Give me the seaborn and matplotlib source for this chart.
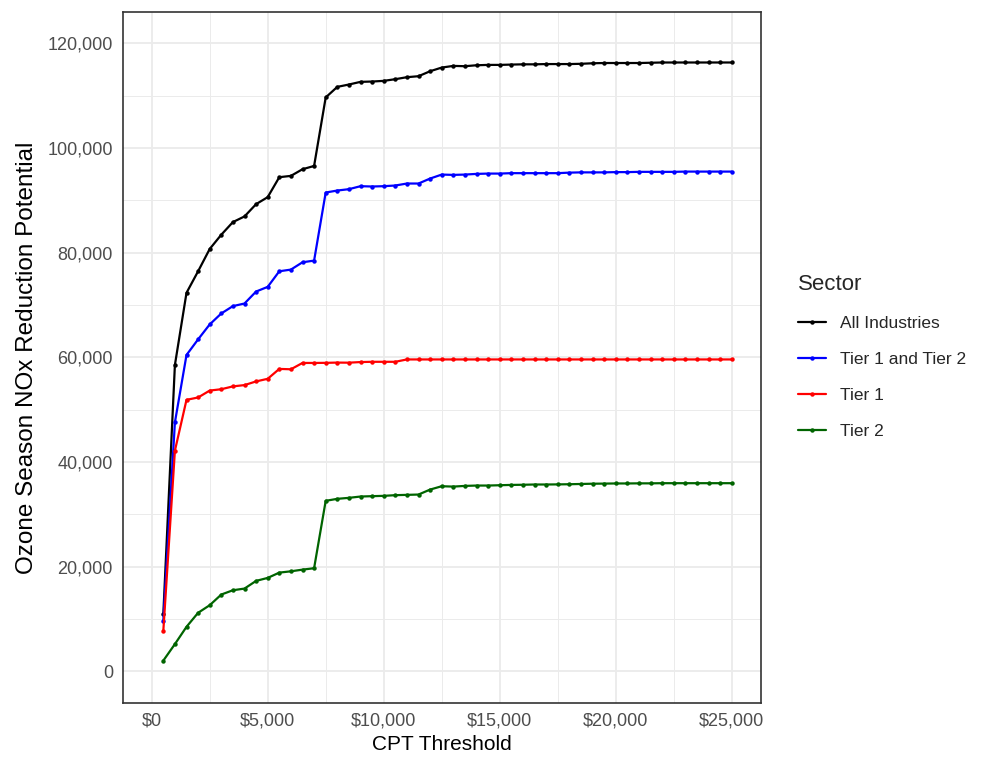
import matplotlib
matplotlib.use("Agg")
import matplotlib.pyplot as plt
import seaborn as sns
import pandas as pd
from matplotlib.ticker import FuncFormatter, MultipleLocator

thresholds = [500, 1000, 1500, 2000, 2500, 3000, 3500, 4000, 4500, 5000,
              5500, 6000, 6500, 7000, 7500, 8000, 8500, 9000, 9500, 10000,
              10500, 11000, 11500, 12000, 12500, 13000, 13500, 14000, 14500, 15000,
              15500, 16000, 16500, 17000, 17500, 18000, 18500, 19000, 19500, 20000,
              20500, 21000, 21500, 22000, 22500, 23000, 23500, 24000, 24500, 25000]

all_industries = [10860, 58540, 72330, 76450, 80710, 83440, 85850, 86930, 89280, 90620,
                  94430, 94680, 95950, 96580, 109670, 111690, 112140, 112650, 112710, 112840,
                  113160, 113540, 113730, 114680, 115380, 115700, 115640, 115820, 115890, 115890,
                  115950, 116000, 116000, 116050, 116050, 116050, 116100, 116200, 116250, 116250,
                  116250, 116250, 116300, 116350, 116350, 116350, 116350, 116350, 116350, 116350]

tier1_and_tier2 = [9660, 47560, 60450, 63440, 66290, 68390, 69790, 70290, 72580, 73470,
                   76450, 76770, 78170, 78490, 91500, 91880, 92140, 92710, 92650, 92710,
                   92840, 93220, 93220, 94170, 94930, 94870, 94930, 95060, 95120, 95120,
                   95200, 95200, 95200, 95200, 95200, 95300, 95350, 95350, 95350, 95400,
                   95400, 95450, 95450, 95450, 95450, 95500, 95500, 95500, 95500, 95500]

tier1 = [7680, 42160, 51880, 52330, 53650, 53910, 54450, 54700, 55400, 55900,
         57790, 57720, 58930, 58930, 58950, 59000, 58980, 59100, 59150, 59150,
         59150, 59600, 59600, 59600, 59600, 59600, 59600, 59600, 59600, 59600,
         59600, 59600, 59600, 59600, 59600, 59600, 59600, 59600, 59600, 59600,
         59600, 59600, 59600, 59600, 59600, 59600, 59600, 59600, 59600, 59600]

tier2 = [2040, 5200, 8500, 11180, 12630, 14670, 15490, 15810, 17280, 17850,
         18860, 19110, 19430, 19700, 32580, 32960, 33150, 33400, 33470, 33530,
         33660, 33720, 33780, 34730, 35370, 35300, 35430, 35500, 35500, 35560,
         35620, 35650, 35700, 35700, 35720, 35750, 35800, 35850, 35870, 35900,
         35900, 35920, 35920, 35950, 35950, 35950, 35950, 35950, 35950, 35950]

sectors = ["All Industries", "Tier 1 and Tier 2", "Tier 1", "Tier 2"]
colors = ["black", "#0000FF", "#FF0000", "#006400"]

series = [all_industries, tier1_and_tier2, tier1, tier2]
frames = []
for name, vals in zip(sectors, series):
    frames.append(pd.DataFrame({"CPT Threshold": thresholds, "Value": vals, "Sector": name}))
df = pd.concat(frames, ignore_index=True)

sns.set_style("white")
plt.rcParams["font.family"] = ["Liberation Sans", "DejaVu Sans"]

fig = plt.figure(figsize=(9.86, 7.59), dpi=100)
ax = fig.add_axes([122.7 / 986, 1 - 702.7 / 759, (760.7 - 122.7) / 986, (702.7 - 12) / 759])

sns.lineplot(data=df, x="CPT Threshold", y="Value", hue="Sector", hue_order=sectors,
             palette=dict(zip(sectors, colors)), marker="o", markersize=3.2,
             markeredgewidth=0, linewidth=1.6, ax=ax, legend=True)

ax.set_xlim(-1250, 26250)
ax.set_ylim(-6000, 126000)
ax.xaxis.set_major_locator(MultipleLocator(5000))
ax.xaxis.set_minor_locator(MultipleLocator(2500))
ax.yaxis.set_major_locator(MultipleLocator(20000))
ax.yaxis.set_minor_locator(MultipleLocator(10000))
ax.xaxis.set_major_formatter(FuncFormatter(lambda v, p: "${:,.0f}".format(v)))
ax.yaxis.set_major_formatter(FuncFormatter(lambda v, p: "{:,.0f}".format(v)))

ax.grid(which="major", color="#EBEBEB", linewidth=1.3)
ax.grid(which="minor", color="#EBEBEB", linewidth=0.7)
ax.set_axisbelow(True)
for s in ax.spines.values():
    s.set_color("#333333")
    s.set_linewidth(1.2)
ax.tick_params(axis="both", which="major", length=4, width=1.1, color="#333333",
               labelsize=13, labelcolor="#4D4D4D", pad=3)
ax.tick_params(axis="both", which="minor", length=0)

ax.set_xlabel("CPT Threshold", fontsize=15, color="black", labelpad=4)
ax.set_ylabel("Ozone Season NOx Reduction Potential", fontsize=17.5, color="black", labelpad=7)

handles, labels = ax.get_legend_handles_labels()
leg = ax.legend(handles, labels, title="Sector", loc="upper left",
                bbox_to_anchor=(791 / 986, 1 - 267 / 759), bbox_transform=fig.transFigure,
                frameon=False, fontsize=12.5, title_fontsize=16, handlelength=1.6,
                handletextpad=0.85, labelspacing=1.2, borderaxespad=0)
leg._legend_box.align = "left"

fig.savefig("out.png", dpi=100)
